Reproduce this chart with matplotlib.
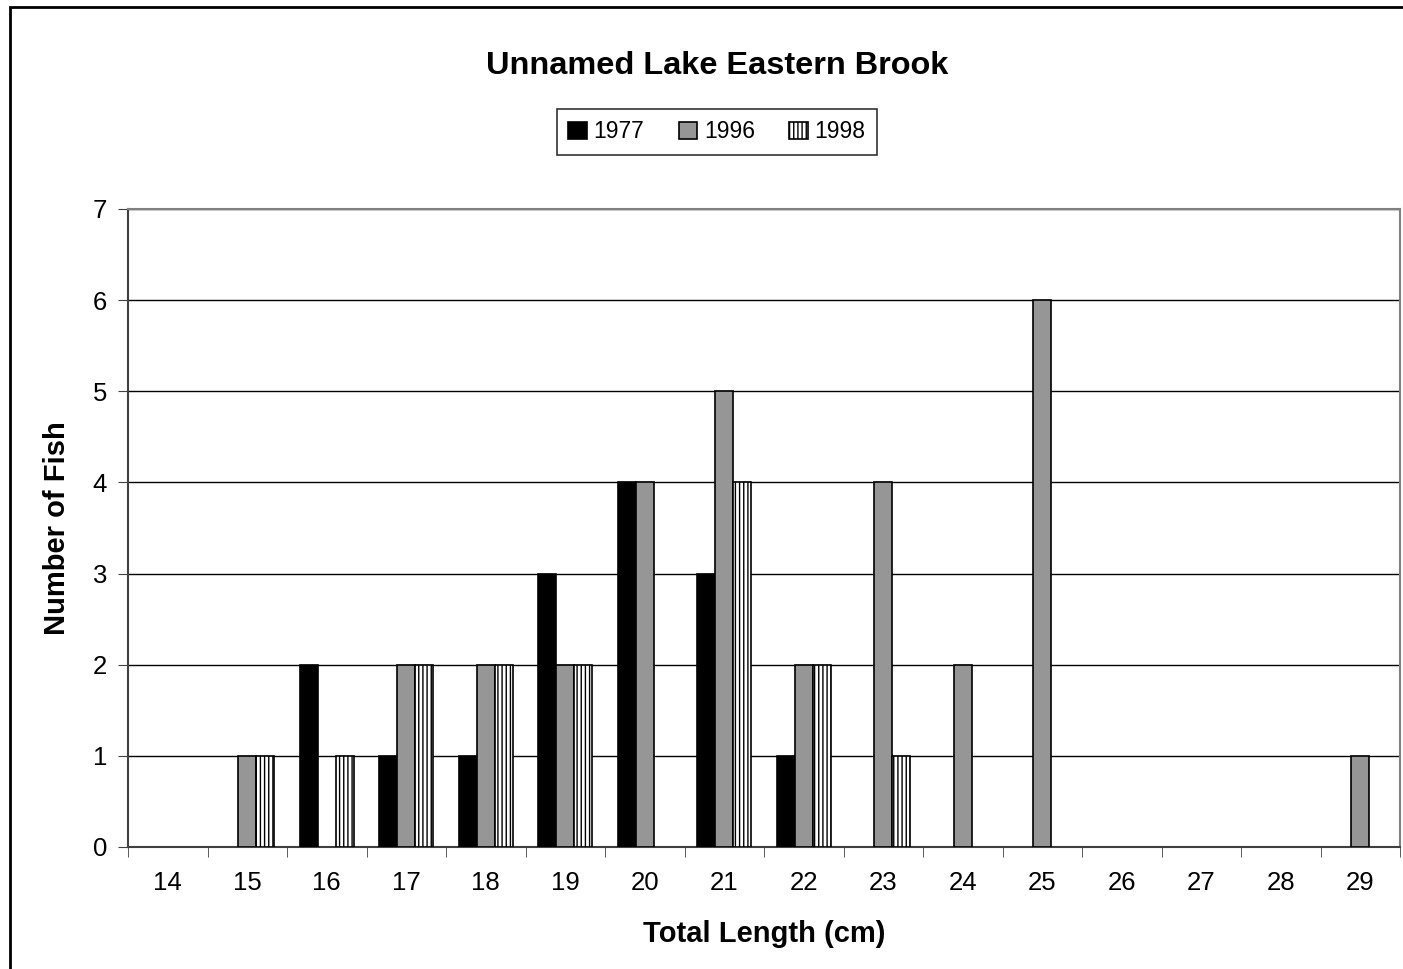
import matplotlib
matplotlib.use("Agg")
import matplotlib.pyplot as plt
from matplotlib.patches import Rectangle, Patch
import numpy as np

plt.rcParams['font.family'] = ['Liberation Sans', 'DejaVu Sans']
plt.rcParams['hatch.linewidth'] = 1.0

lengths = [14, 15, 16, 17, 18, 19, 20, 21, 22, 23, 24, 25, 26, 27, 28, 29]
y1977 = [0, 0, 2, 1, 1, 3, 4, 3, 1, 0, 0, 0, 0, 0, 0, 0]
y1996 = [0, 1, 0, 2, 2, 2, 4, 5, 2, 4, 2, 6, 0, 0, 0, 1]
y1998 = [0, 1, 1, 2, 2, 2, 0, 4, 2, 1, 0, 0, 0, 0, 0, 0]
series_names = ['1977', '1996', '1998']
face_colors = ['black', '#969696', 'white']
hatches = [None, None, '||||']

fig = plt.figure(figsize=(14.03, 9.69), dpi=100)
fig.patches.append(Rectangle((10/1403, -0.5), 1.5, 1.5 - 7/969, transform=fig.transFigure,
                             fill=False, edgecolor='black', linewidth=2, zorder=0))
ax = fig.add_axes([128/1403, 1 - 847/969, (1400-128)/1403, (847-209)/969])

x = np.arange(len(lengths))
w = 0.226
handles = []
for i, vals in enumerate((y1977, y1996, y1998)):
    bars = ax.bar(x + (i - 1) * w, vals, w, color=face_colors[i], hatch=hatches[i],
                  edgecolor='black', linewidth=1.2, zorder=3)
    for p, v in zip(bars.patches, vals):
        if v == 0:
            p.set_visible(False)
    handles.append(Patch(facecolor=face_colors[i], hatch=hatches[i], edgecolor='black',
                         linewidth=1.2, label=series_names[i]))

ax.set_xlim(-0.5, len(lengths) - 0.5)
ax.set_ylim(0, 7)
ax.set_yticks(range(0, 8))
ax.yaxis.grid(True, color='black', linewidth=1)
ax.set_axisbelow(True)
ax.set_xticks(x)
ax.set_xticklabels([str(v) for v in lengths], fontsize=18.5)
ax.set_xticks(np.arange(-0.5, len(lengths)), minor=True)
ax.tick_params(axis='x', which='major', length=0, pad=17)
ax.tick_params(axis='x', which='minor', length=7, direction='out', color='#404040')
ax.tick_params(axis='y', labelsize=18.5, length=7, direction='out', color='#404040', pad=8)
for s in ['top', 'right']:
    ax.spines[s].set_color('#808080')
    ax.spines[s].set_linewidth(1.5)
for s in ['left', 'bottom']:
    ax.spines[s].set_color('#404040')
    ax.spines[s].set_linewidth(1.5)

ax.set_xlabel('Total Length (cm)', fontsize=21, fontweight='bold', labelpad=18)
ax.set_ylabel('Number of Fish', fontsize=21, fontweight='bold', labelpad=16)

fig.text(717/1403, 1 - 66/969, 'Unnamed Lake Eastern Brook', ha='center', va='center',
         fontsize=23.4, fontweight='bold')
leg = fig.legend(handles=handles, loc='center', bbox_to_anchor=(717/1403, 1 - 132/969), ncol=3,
                 fontsize=16.5, frameon=True, fancybox=False, handlelength=0.8,
                 handleheight=0.8, handletextpad=0.3, columnspacing=1.5,
                 borderpad=0.5)
leg.get_frame().set_edgecolor('black')
leg.get_frame().set_linewidth(1.2)

fig.savefig('out.png', dpi=100)
